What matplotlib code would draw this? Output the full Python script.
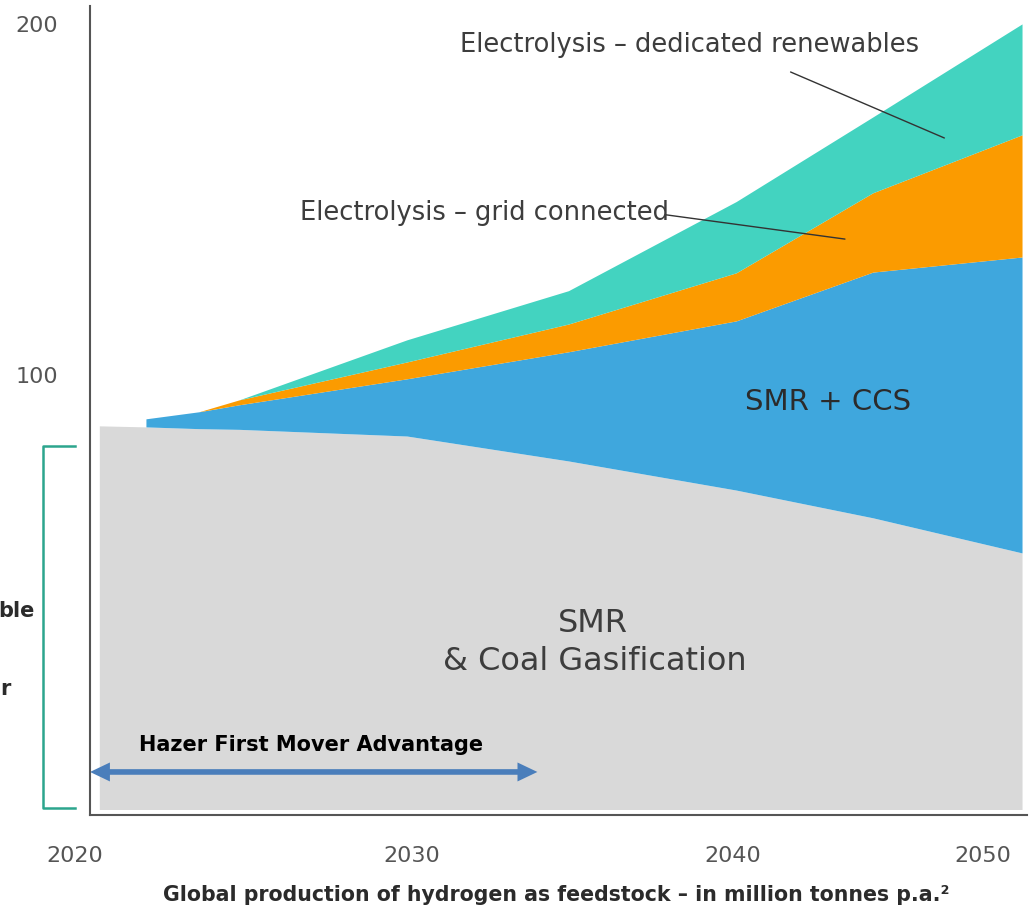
import numpy as np
import matplotlib.pyplot as plt
from matplotlib.patches import Polygon

# hydrogen production by route, million tonnes p.a.
years = [2020.3, 2021.8, 2023.5, 2024.8, 2030.2, 2035.4, 2040.8, 2045.2, 2050.0]
smr_coal = [85.5, 85.2, 84.7, 84.5, 82.6, 75.5, 67.2, 59.3, 49.3]
smr_ccs = [np.nan, 2.3, 4.8, 7.0, 16.3, 31.1, 48.2, 70.0, 84.3]
elec_grid = [np.nan, 0.0, 0.0, 1.4, 4.8, 7.9, 13.7, 22.6, 34.8]
elec_renew = [np.nan, 0.0, 0.0, 0.0, 6.3, 9.5, 20.3, 21.6, 31.6]

x_labels = ['2020', '2030', '2040', '2050']
x_label_pos = [2019.5, 2030.35, 2040.7, 2048.75]
y_ticks = [100, 200]

txt = '#3d3d3d'

x = np.array(years)
top_gray = np.array(smr_coal)
top_blue = top_gray + np.array(smr_ccs)
top_orange = top_blue + np.array(elec_grid)
top_teal = top_orange + np.array(elec_renew)

fig = plt.figure(figsize=(10.29, 9.10), dpi=100)
ax = fig.add_axes([40 / 1029, 1 - 809 / 910, 987 / 1029, 803 / 910])

ax.fill_between(x, -30, top_gray, color='#d9d9d9', lw=0)
ax.fill_between(x, top_gray, top_blue, color='#3fa7dd', lw=0)
ax.fill_between(x, top_blue, top_orange, color='#fb9b00', lw=0)
ax.fill_between(x, top_orange, top_teal, color='#43d3c0', lw=0)

ax.set_xticks(x_label_pos)
ax.set_xticklabels(x_labels)
ax.set_yticks(y_ticks)
ax.set_yticklabels([str(v) for v in y_ticks])
# limits after the ticks, so the ticks do not widen them
ax.set_xlim(2018.39, 2050.16)
ax.set_ylim(-23.65, 205.1)

for s in ['top', 'right']:
    ax.spines[s].set_visible(False)
for s in ['left', 'bottom']:
    ax.spines[s].set_color('#555555')
    ax.spines[s].set_linewidth(1.5)
ax.spines['left'].set_position(('data', 2020))
ax.spines['left'].set_bounds(-25.4, 205.1)
ax.spines['bottom'].set_position(('outward', 4.3))
ax.spines['bottom'].set_bounds(2020, 2050.16)

ax.tick_params(axis='both', length=0, labelsize=16, labelcolor='#555555')
ax.tick_params(axis='y', pad=23)
ax.tick_params(axis='x', pad=22)

# series labels with leader lines
ax.text(2031.9, 194.0, 'Electrolysis \u2013 dedicated renewables', fontsize=18.5,
        color=txt, va='center', ha='left')
ax.annotate('', xy=(2047.5, 167.5), xytext=(2042.55, 186.3),
            arrowprops=dict(arrowstyle='-', color='#333333', lw=1, shrinkA=0, shrinkB=0))
ax.text(2026.75, 146.2, 'Electrolysis \u2013 grid connected', fontsize=18.5,
        color=txt, va='center', ha='left')
ax.annotate('', xy=(2044.3, 138.7), xytext=(2038.55, 145.6),
            arrowprops=dict(arrowstyle='-', color='#333333', lw=1, shrinkA=0, shrinkB=0))
ax.text(2043.75, 92.3, 'SMR + CCS', fontsize=21, color='#2b2b2b', ha='center', va='center')
ax.text(2036.2, 29.3, 'SMR', fontsize=23, color=txt, ha='center', va='center')
ax.text(2036.25, 18.5, '& Coal Gasification', fontsize=23, color=txt, ha='center', va='center')

# first mover double arrow as one polygon
ax.text(2027.1, -5.4, 'Hazer First Mover Advantage', fontsize=15, fontweight='bold',
        color='black', ha='center', va='center')
x0, x1, ya = 2020.0, 2034.4, -13.1
hl, hw, sw = 0.64, 2.7, 0.8
arrow_pts = [(x0, ya), (x0 + hl, ya + hw), (x0 + hl, ya + sw), (x1 - hl, ya + sw),
             (x1 - hl, ya + hw), (x1, ya), (x1 - hl, ya - hw), (x1 - hl, ya - sw),
             (x0 + hl, ya - sw), (x0 + hl, ya - hw)]
ax.add_patch(Polygon(arrow_pts, closed=True, color='#4a7ebb', lw=0, clip_on=False))

# teal bracket on the left
ax.plot([2019.52, 2018.49, 2018.49, 2019.52], [79.8, 79.8, -23.4, -23.4],
        color='#2ca58d', lw=1.8, clip_on=False, solid_joinstyle='round')

# cut-off words from the slide
fig.text(35 / 1029, 1 - 611 / 910, 'ble', fontsize=15, fontweight='bold', color='#2b2b2b',
         ha='right', va='center')
fig.text(11 / 1029, 1 - 689 / 910, 'r', fontsize=15, fontweight='bold', color='#2b2b2b',
         ha='right', va='center')

fig.text(556 / 1029, 1 - 895 / 910,
         'Global production of hydrogen as feedstock \u2013 in million tonnes p.a.\u00b2',
         fontsize=14.8, fontweight='bold', color='#2b2b2b', ha='center', va='center')

fig.savefig('out.png', dpi=100)
